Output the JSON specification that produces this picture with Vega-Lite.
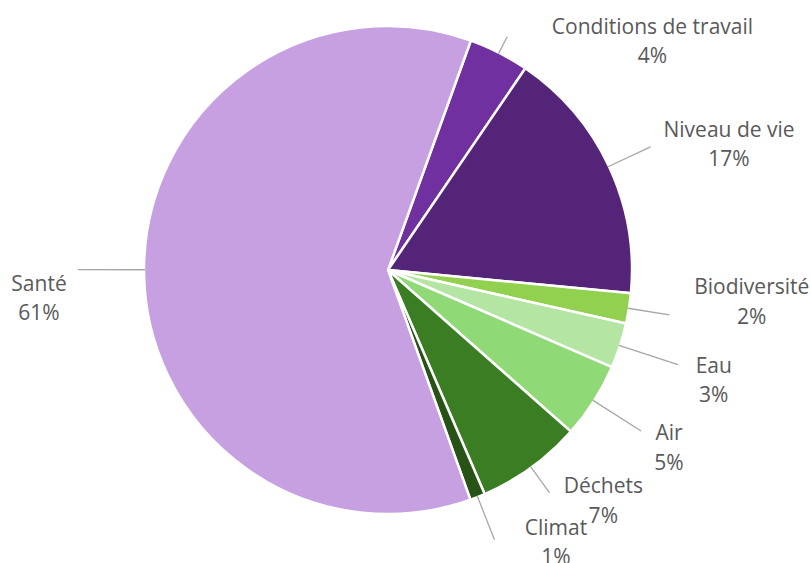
{
  "$schema": "https://vega.github.io/schema/vega-lite/v6.json",
  "width": 776,
  "height": 540,
  "autosize": {"type": "none"},
  "padding": {"left": 0, "top": 0, "right": 35, "bottom": 23},
  "background": "white",
  "config": {"view": {"stroke": null}},
  "data": {
    "values": [
      {"order": 1, "label": "Conditions de travail", "value": 0.04},
      {"order": 2, "label": "Niveau de vie", "value": 0.17},
      {"order": 3, "label": "Biodiversité", "value": 0.02},
      {"order": 4, "label": "Eau", "value": 0.03},
      {"order": 5, "label": "Air", "value": 0.05},
      {"order": 6, "label": "Déchets", "value": 0.07},
      {"order": 7, "label": "Climat", "value": 0.01},
      {"order": 8, "label": "Santé", "value": 0.61}
    ]
  },
  "transform": [
    {"stack": "value", "groupby": [], "sort": [{"field": "order"}], "as": ["v0", "v1"]},
    {"fold": ["v0", "v1"], "as": ["edge", "pos"]},
    {"aggregate": [{"op": "mean", "field": "pos", "as": "mid"}], "groupby": ["label", "order", "value", "v0", "v1"]}
  ],
  "layer": [
    {
      "mark": {"type": "arc", "outerRadius": 244, "stroke": "white", "strokeWidth": 2.5},
      "encoding": {
        "theta": {"field": "v0", "type": "quantitative", "stack": null, "scale": {"domain": [0, 1], "range": [0.3466, 6.6298]}},
        "theta2": {"field": "v1"},
        "color": {
          "field": "label", "type": "nominal", "legend": null,
          "scale": {
            "domain": ["Conditions de travail", "Niveau de vie", "Biodiversité", "Eau", "Air", "Déchets", "Climat", "Santé"],
            "range": ["#7030A0", "#542478", "#92D050", "#B4E5A2", "#8FD976", "#3B7D23", "#275317", "#C6A0E1"]
          }
        }
      }
    },
    {
      "transform": [{"filter": {"field": "label", "equal": "Conditions de travail"}}],
      "layer": [
        {"mark": {"type": "arc", "innerRadius": 243, "outerRadius": 262, "filled": false, "stroke": "#A6A6A6", "strokeWidth": 1.3},
         "encoding": {"theta": {"field": "mid", "type": "quantitative", "stack": null, "scale": {"domain": [0, 1], "range": [0.3466, 6.6298]}}, "theta2": {"field": "mid"}}},
        {"mark": {"type": "text", "radius": 262, "dx": 145.3, "dy": -2.7, "align": "center", "baseline": "alphabetic", "font": "Open Sans", "fontSize": 21, "color": "#595959"},
         "encoding": {"theta": {"field": "mid", "type": "quantitative", "stack": null, "scale": {"domain": [0, 1], "range": [0.3466, 6.6298]}}, "text": {"field": "label"}}},
        {"mark": {"type": "text", "radius": 262, "dx": 145.3, "dy": 26.8, "align": "center", "baseline": "alphabetic", "font": "Open Sans", "fontSize": 21, "color": "#595959"},
         "encoding": {"theta": {"field": "mid", "type": "quantitative", "stack": null, "scale": {"domain": [0, 1], "range": [0.3466, 6.6298]}}, "text": {"field": "value", "type": "quantitative", "format": ".0%"}}}
      ]
    },
    {
      "transform": [{"filter": {"field": "label", "equal": "Niveau de vie"}}],
      "layer": [
        {"mark": {"type": "arc", "innerRadius": 243, "outerRadius": 290, "filled": false, "stroke": "#A6A6A6", "strokeWidth": 1.3},
         "encoding": {"theta": {"field": "mid", "type": "quantitative", "stack": null, "scale": {"domain": [0, 1], "range": [0.3466, 6.6298]}}, "theta2": {"field": "mid"}}},
        {"mark": {"type": "text", "radius": 290, "dx": 78.5, "dy": -10.1, "align": "center", "baseline": "alphabetic", "font": "Open Sans", "fontSize": 21, "color": "#595959"},
         "encoding": {"theta": {"field": "mid", "type": "quantitative", "stack": null, "scale": {"domain": [0, 1], "range": [0.3466, 6.6298]}}, "text": {"field": "label"}}},
        {"mark": {"type": "text", "radius": 290, "dx": 78.5, "dy": 19.4, "align": "center", "baseline": "alphabetic", "font": "Open Sans", "fontSize": 21, "color": "#595959"},
         "encoding": {"theta": {"field": "mid", "type": "quantitative", "stack": null, "scale": {"domain": [0, 1], "range": [0.3466, 6.6298]}}, "text": {"field": "value", "type": "quantitative", "format": ".0%"}}}
      ]
    },
    {
      "transform": [{"filter": {"field": "label", "equal": "Biodiversité"}}],
      "layer": [
        {"mark": {"type": "arc", "innerRadius": 243, "outerRadius": 285, "filled": false, "stroke": "#A6A6A6", "strokeWidth": 1.3},
         "encoding": {"theta": {"field": "mid", "type": "quantitative", "stack": null, "scale": {"domain": [0, 1], "range": [0.3466, 6.6298]}}, "theta2": {"field": "mid"}}},
        {"mark": {"type": "text", "radius": 285, "dx": 82.3, "dy": -20.6, "align": "center", "baseline": "alphabetic", "font": "Open Sans", "fontSize": 21, "color": "#595959"},
         "encoding": {"theta": {"field": "mid", "type": "quantitative", "stack": null, "scale": {"domain": [0, 1], "range": [0.3466, 6.6298]}}, "text": {"field": "label"}}},
        {"mark": {"type": "text", "radius": 285, "dx": 82.3, "dy": 8.9, "align": "center", "baseline": "alphabetic", "font": "Open Sans", "fontSize": 21, "color": "#595959"},
         "encoding": {"theta": {"field": "mid", "type": "quantitative", "stack": null, "scale": {"domain": [0, 1], "range": [0.3466, 6.6298]}}, "text": {"field": "value", "type": "quantitative", "format": ".0%"}}}
      ]
    },
    {
      "transform": [{"filter": {"field": "label", "equal": "Eau"}}],
      "layer": [
        {"mark": {"type": "arc", "innerRadius": 243, "outerRadius": 305, "filled": false, "stroke": "#A6A6A6", "strokeWidth": 1.3},
         "encoding": {"theta": {"field": "mid", "type": "quantitative", "stack": null, "scale": {"domain": [0, 1], "range": [0.3466, 6.6298]}}, "theta2": {"field": "mid"}}},
        {"mark": {"type": "text", "radius": 305, "dx": 35.8, "dy": 8.1, "align": "center", "baseline": "alphabetic", "font": "Open Sans", "fontSize": 21, "color": "#595959"},
         "encoding": {"theta": {"field": "mid", "type": "quantitative", "stack": null, "scale": {"domain": [0, 1], "range": [0.3466, 6.6298]}}, "text": {"field": "label"}}},
        {"mark": {"type": "text", "radius": 305, "dx": 35.8, "dy": 37.6, "align": "center", "baseline": "alphabetic", "font": "Open Sans", "fontSize": 21, "color": "#595959"},
         "encoding": {"theta": {"field": "mid", "type": "quantitative", "stack": null, "scale": {"domain": [0, 1], "range": [0.3466, 6.6298]}}, "text": {"field": "value", "type": "quantitative", "format": ".0%"}}}
      ]
    },
    {
      "transform": [{"filter": {"field": "label", "equal": "Air"}}],
      "layer": [
        {"mark": {"type": "arc", "innerRadius": 243, "outerRadius": 300, "filled": false, "stroke": "#A6A6A6", "strokeWidth": 1.3},
         "encoding": {"theta": {"field": "mid", "type": "quantitative", "stack": null, "scale": {"domain": [0, 1], "range": [0.3466, 6.6298]}}, "theta2": {"field": "mid"}}},
        {"mark": {"type": "text", "radius": 300, "dx": 27.9, "dy": 9, "align": "center", "baseline": "alphabetic", "font": "Open Sans", "fontSize": 21, "color": "#595959"},
         "encoding": {"theta": {"field": "mid", "type": "quantitative", "stack": null, "scale": {"domain": [0, 1], "range": [0.3466, 6.6298]}}, "text": {"field": "label"}}},
        {"mark": {"type": "text", "radius": 300, "dx": 27.9, "dy": 38.5, "align": "center", "baseline": "alphabetic", "font": "Open Sans", "fontSize": 21, "color": "#595959"},
         "encoding": {"theta": {"field": "mid", "type": "quantitative", "stack": null, "scale": {"domain": [0, 1], "range": [0.3466, 6.6298]}}, "text": {"field": "value", "type": "quantitative", "format": ".0%"}}}
      ]
    },
    {
      "transform": [{"filter": {"field": "label", "equal": "Déchets"}}],
      "layer": [
        {"mark": {"type": "arc", "innerRadius": 243, "outerRadius": 275, "filled": false, "stroke": "#A6A6A6", "strokeWidth": 1.3},
         "encoding": {"theta": {"field": "mid", "type": "quantitative", "stack": null, "scale": {"domain": [0, 1], "range": [0.3466, 6.6298]}}, "theta2": {"field": "mid"}}},
        {"mark": {"type": "text", "radius": 275, "dx": 53.9, "dy": 0.6, "align": "center", "baseline": "alphabetic", "font": "Open Sans", "fontSize": 21, "color": "#595959"},
         "encoding": {"theta": {"field": "mid", "type": "quantitative", "stack": null, "scale": {"domain": [0, 1], "range": [0.3466, 6.6298]}}, "text": {"field": "label"}}},
        {"mark": {"type": "text", "radius": 275, "dx": 53.9, "dy": 30.1, "align": "center", "baseline": "alphabetic", "font": "Open Sans", "fontSize": 21, "color": "#595959"},
         "encoding": {"theta": {"field": "mid", "type": "quantitative", "stack": null, "scale": {"domain": [0, 1], "range": [0.3466, 6.6298]}}, "text": {"field": "value", "type": "quantitative", "format": ".0%"}}}
      ]
    },
    {
      "transform": [{"filter": {"field": "label", "equal": "Climat"}}],
      "layer": [
        {"mark": {"type": "arc", "innerRadius": 243, "outerRadius": 290, "filled": false, "stroke": "#A6A6A6", "strokeWidth": 1.3},
         "encoding": {"theta": {"field": "mid", "type": "quantitative", "stack": null, "scale": {"domain": [0, 1], "range": [0.3466, 6.6298]}}, "theta2": {"field": "mid"}}},
        {"mark": {"type": "text", "radius": 290, "dx": 61.5, "dy": -4.8, "align": "center", "baseline": "alphabetic", "font": "Open Sans", "fontSize": 21, "color": "#595959"},
         "encoding": {"theta": {"field": "mid", "type": "quantitative", "stack": null, "scale": {"domain": [0, 1], "range": [0.3466, 6.6298]}}, "text": {"field": "label"}}},
        {"mark": {"type": "text", "radius": 290, "dx": 61.5, "dy": 24.7, "align": "center", "baseline": "alphabetic", "font": "Open Sans", "fontSize": 21, "color": "#595959"},
         "encoding": {"theta": {"field": "mid", "type": "quantitative", "stack": null, "scale": {"domain": [0, 1], "range": [0.3466, 6.6298]}}, "text": {"field": "value", "type": "quantitative", "format": ".0%"}}}
      ]
    },
    {
      "transform": [{"filter": {"field": "label", "equal": "Santé"}}],
      "layer": [
        {"mark": {"type": "arc", "innerRadius": 243, "outerRadius": 310, "filled": false, "stroke": "#A6A6A6", "strokeWidth": 1.3},
         "encoding": {"theta": {"field": "mid", "type": "quantitative", "stack": null, "scale": {"domain": [0, 1], "range": [0.3466, 6.6298]}}, "theta2": {"field": "mid"}}},
        {"mark": {"type": "text", "radius": 310, "dx": -39, "dy": 21.3, "align": "center", "baseline": "alphabetic", "font": "Open Sans", "fontSize": 21, "color": "#595959"},
         "encoding": {"theta": {"field": "mid", "type": "quantitative", "stack": null, "scale": {"domain": [0, 1], "range": [0.3466, 6.6298]}}, "text": {"field": "label"}}},
        {"mark": {"type": "text", "radius": 310, "dx": -39, "dy": 50.8, "align": "center", "baseline": "alphabetic", "font": "Open Sans", "fontSize": 21, "color": "#595959"},
         "encoding": {"theta": {"field": "mid", "type": "quantitative", "stack": null, "scale": {"domain": [0, 1], "range": [0.3466, 6.6298]}}, "text": {"field": "value", "type": "quantitative", "format": ".0%"}}}
      ]
    }
  ]
}
